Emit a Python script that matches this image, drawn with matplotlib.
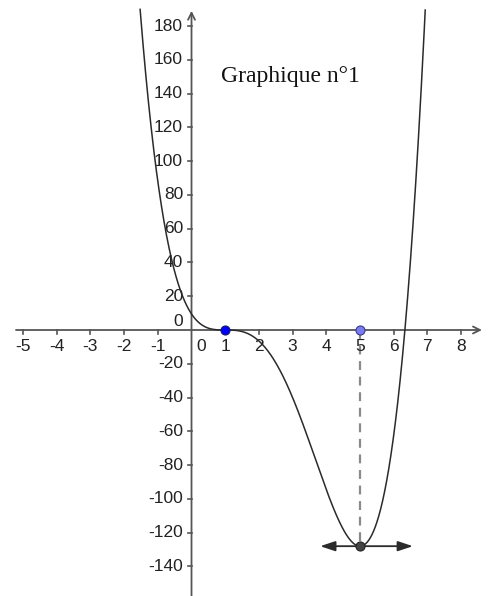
import numpy as np
import matplotlib
matplotlib.use("Agg")
import matplotlib.pyplot as plt

# f(x) = 1.5x^4 - 14x^3 + 33x^2 - 30x + 9.5
coeffs = [1.5, -14, 33, -30, 9.5]
x_ticks = [-5, -4, -3, -2, -1, 1, 2, 3, 4, 5, 6, 7, 8]
y_ticks = [180, 160, 140, 120, 100, 80, 60, 40, 20,
           -20, -40, -60, -80, -100, -120, -140]
root_pt = (1, 0)
proj_pt = (5, 0)
min_pt = (5, -128)
tangent_x = [3.82, 6.57]
title = "Graphique n°1"

fig = plt.figure(figsize=(4.88, 5.96), dpi=100)
ax = fig.add_axes([0, 0, 1, 1])
ax.set_xlim(-5.684, 8.80)
ax.set_ylim(-157.5, 195.4)
ax.set_axis_off()

axis_col = "#555555"
tick_font = dict(family="Liberation Sans", size=12.5, color="#222222")

# axes with arrows
ax.annotate("", xy=(8.62, 0), xytext=(-5.21, 0),
            arrowprops=dict(arrowstyle="->,head_length=0.5,head_width=0.25",
                            color=axis_col, lw=1.3, shrinkA=0, shrinkB=0))
ax.annotate("", xy=(0, 189), xytext=(0, -157.5),
            arrowprops=dict(arrowstyle="->,head_length=0.5,head_width=0.25",
                            color=axis_col, lw=1.3, shrinkA=0, shrinkB=0))

# tick marks and labels
for t in x_ticks:
    ax.plot([t, t], [0, -2.2], color=axis_col, lw=1.2)
    ax.text(t, -9.5, str(t), ha="center", va="center", **tick_font)
ax.text(0.3, -9.5, "0", ha="center", va="center", **tick_font)
for t in y_ticks:
    ax.plot([-0.11, 0], [t, t], color=axis_col, lw=1.2)
    ax.text(-0.25, t, str(t), ha="right", va="center", **tick_font)
ax.text(-0.25, 5.0, "0", ha="right", va="center", **tick_font)

# curve, cut at the top of the view
xs = np.linspace(-1.6, 7.0, 1500)
ys = np.polyval(coeffs, xs)
ys = np.where(ys > 190.5, np.nan, ys)
ax.plot(xs, ys, color="#2b2b2b", lw=1.1, zorder=3)

# dashed projection of the minimum
ax.plot([proj_pt[0], min_pt[0]], [proj_pt[1], min_pt[1]],
        color="#8a8a8a", lw=1.6, ls=(0, (4, 3)), zorder=2)

# horizontal tangent at the minimum
ax.annotate("", xy=(tangent_x[1], min_pt[1]), xytext=(tangent_x[0], min_pt[1]),
            arrowprops=dict(arrowstyle="<|-|>,head_length=0.9,head_width=0.3",
                            color="#2b2b2b", lw=1.3, shrinkA=0, shrinkB=0),
            zorder=4)

ax.plot(*root_pt, "o", ms=6.5, mfc="#0000ff", mec="#1a1a66", mew=0.8, zorder=5)
ax.plot(*proj_pt, "o", ms=6.5, mfc="#7b7bf2", mec="#3a3a8a", mew=0.8, zorder=5)
ax.plot(*min_pt, "o", ms=6.5, mfc="#444444", mec="#222222", mew=0.8, zorder=5)

ax.text(0.87, 150, title, ha="left", va="center",
        family="Liberation Serif", size=17, color="#111111")

fig.savefig("out.png", dpi=100)
